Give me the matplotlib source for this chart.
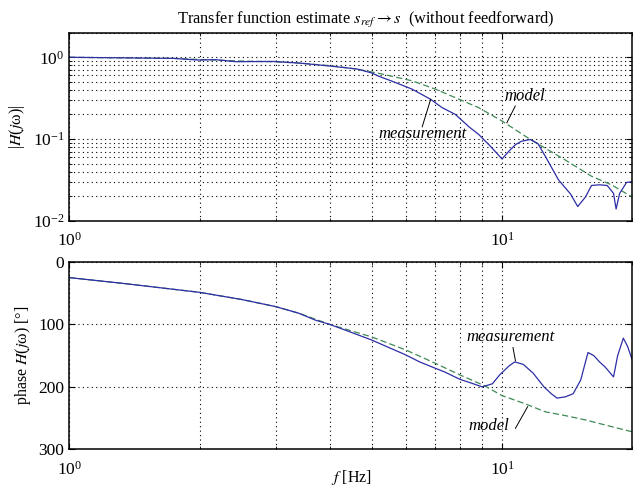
import matplotlib
matplotlib.use("Agg")
import matplotlib.pyplot as plt
import numpy as np

plt.rcParams['font.family'] = ['Liberation Serif', 'DejaVu Serif']
plt.rcParams['mathtext.fontset'] = 'stix'

# magnitude, measured
f_mag_meas = [1.0, 1.74, 1.98, 2.18, 2.43, 2.95, 3.4, 4.06, 4.63, 5.0, 5.2, 5.57, 6.2, 6.84, 7.27,
              7.8, 8.4, 8.83, 9.39, 10.0, 10.4, 10.75, 11.1, 11.63, 12.1, 12.6, 13.5, 14.4, 14.96,
              15.6, 16.1, 16.8, 17.5, 18.1, 18.35, 18.7, 19.4, 20.0]
mag_meas = [1.0, 0.97, 0.926, 0.935, 0.883, 0.89, 0.85, 0.775, 0.718, 0.643, 0.584, 0.51, 0.407, 0.306, 0.242,
            0.2, 0.14, 0.114, 0.082, 0.057, 0.072, 0.0855, 0.094, 0.0986, 0.088, 0.061, 0.0317, 0.0212, 0.0149,
            0.0196, 0.027, 0.0275, 0.027, 0.0216, 0.0139, 0.0216, 0.0294, 0.030]

# magnitude, model
f_mag_mod = [1.0, 1.74, 2.0, 2.5, 3.0, 3.4, 4.0, 4.6, 5.2, 6.2, 7.02, 8.83, 10.0, 11.63,
             13.95, 16.1, 17.9, 19.6, 20.0]
mag_mod = [1.0, 0.97, 0.94, 0.9, 0.88, 0.85, 0.79, 0.72, 0.635, 0.515, 0.407, 0.242, 0.166, 0.0986,
           0.056, 0.035, 0.0275, 0.0207, 0.0195]

# phase, measured
f_ph_meas = [1.0, 1.32, 2.0, 2.5, 3.0, 3.39, 3.7, 4.0, 4.3, 5.0, 6.0, 6.45, 7.0, 7.36, 8.0, 8.5, 9.0,
             9.5, 9.9, 10.4, 10.7, 11.2, 11.8, 12.5, 13.0, 13.4, 14.0, 14.6, 15.2, 15.8, 16.3, 16.8,
             17.3, 18.1, 18.5, 19.07, 19.5, 20.0]
ph_meas = [25, 34, 48.6, 60, 71.5, 82, 93, 100, 108, 125, 149, 160, 170, 176, 188, 194, 200,
           195, 180, 166, 160, 164, 178, 200, 211, 218, 216, 211, 189, 145, 150, 160,
           168, 184, 150, 122, 135, 157]

# phase, model
f_ph_mod = [1.0, 1.32, 2.0, 2.5, 3.0, 3.39, 4.0, 5.0, 6.0, 7.0, 8.0, 9.1, 10.0, 11.3, 12.6, 14.0,
            15.6, 17.3, 20.0]
ph_mod = [25, 34, 48.6, 60, 71.5, 82, 100, 120, 141, 162, 181, 198, 214, 227, 240, 246,
          253, 261, 272]

c_meas = '#2e2ea6'
c_mod = '#3f8a55'
dots = (0, (1, 3))

fig = plt.figure(figsize=(6.34, 4.91), dpi=100)
ax1 = fig.add_axes([0.1093, 0.5505, 0.888, 0.3829])
ax2 = fig.add_axes([0.1093, 0.0849, 0.888, 0.3815])

ax1.loglog(f_mag_mod, mag_mod, '--', color=c_mod, lw=0.9, dashes=(5, 2.5))
ax1.loglog(f_mag_meas, mag_meas, '-', color=c_meas, lw=0.9)
ax1.set_xlim(1, 20)
ax1.set_ylim(0.01, 2)
ax1.set_ylabel('|$H$($j$ω)|', fontsize=11.5)
ax1.set_title(r'Transfer function estimate $s_{ref} \rightarrow s$  (without feedforward)',
              fontsize=11.8, x=0.527, pad=6)

ax1.text(11.26, 0.337, 'model', style='italic', fontsize=12, ha='center', va='center')
ax1.plot([10.73, 10.26], [0.253, 0.158], color='k', lw=0.7)
ax1.text(6.54, 0.1136, 'measurement', style='italic', fontsize=12, ha='center', va='center')
ax1.plot([6.54, 6.84], [0.141, 0.306], color='k', lw=0.7)

ax2.semilogx(f_ph_mod, ph_mod, '--', color=c_mod, lw=0.9, dashes=(5, 2.5))
ax2.semilogx(f_ph_meas, ph_meas, '-', color=c_meas, lw=0.9)
ax2.set_xlim(1, 20)
ax2.set_ylim(300, 0)
ax2.set_yticks([0, 100, 200, 300])
ax2.set_ylabel('phase $H$($j$ω) [°]', fontsize=11.5)
fig.text(0.555, 0.018, '$f$ [Hz]', fontsize=11.5, ha='center', va='baseline')

ax2.text(10.45, 119.6, 'measurement', style='italic', fontsize=12, ha='center', va='center')
ax2.plot([10.6, 10.74], [137, 158], color='k', lw=0.7)
ax2.text(9.32, 262.7, 'model', style='italic', fontsize=12, ha='center', va='center')
ax2.plot([10.74, 11.46], [266.4, 231.7], color='k', lw=0.7)

for ax in (ax1, ax2):
    ax.grid(True, which='both', color='k', linestyle=dots, lw=0.8)
    ax.tick_params(which='both', direction='in', top=True, right=True, labelsize=12.5)
    ax.tick_params(which='major', length=4)
    ax.tick_params(which='minor', length=2, labelbottom=False)
    ax.tick_params(axis='x', which='major', pad=8)
    for s in ax.spines.values():
        s.set_linewidth(1.1)

plt.savefig('out.png', dpi=100)
